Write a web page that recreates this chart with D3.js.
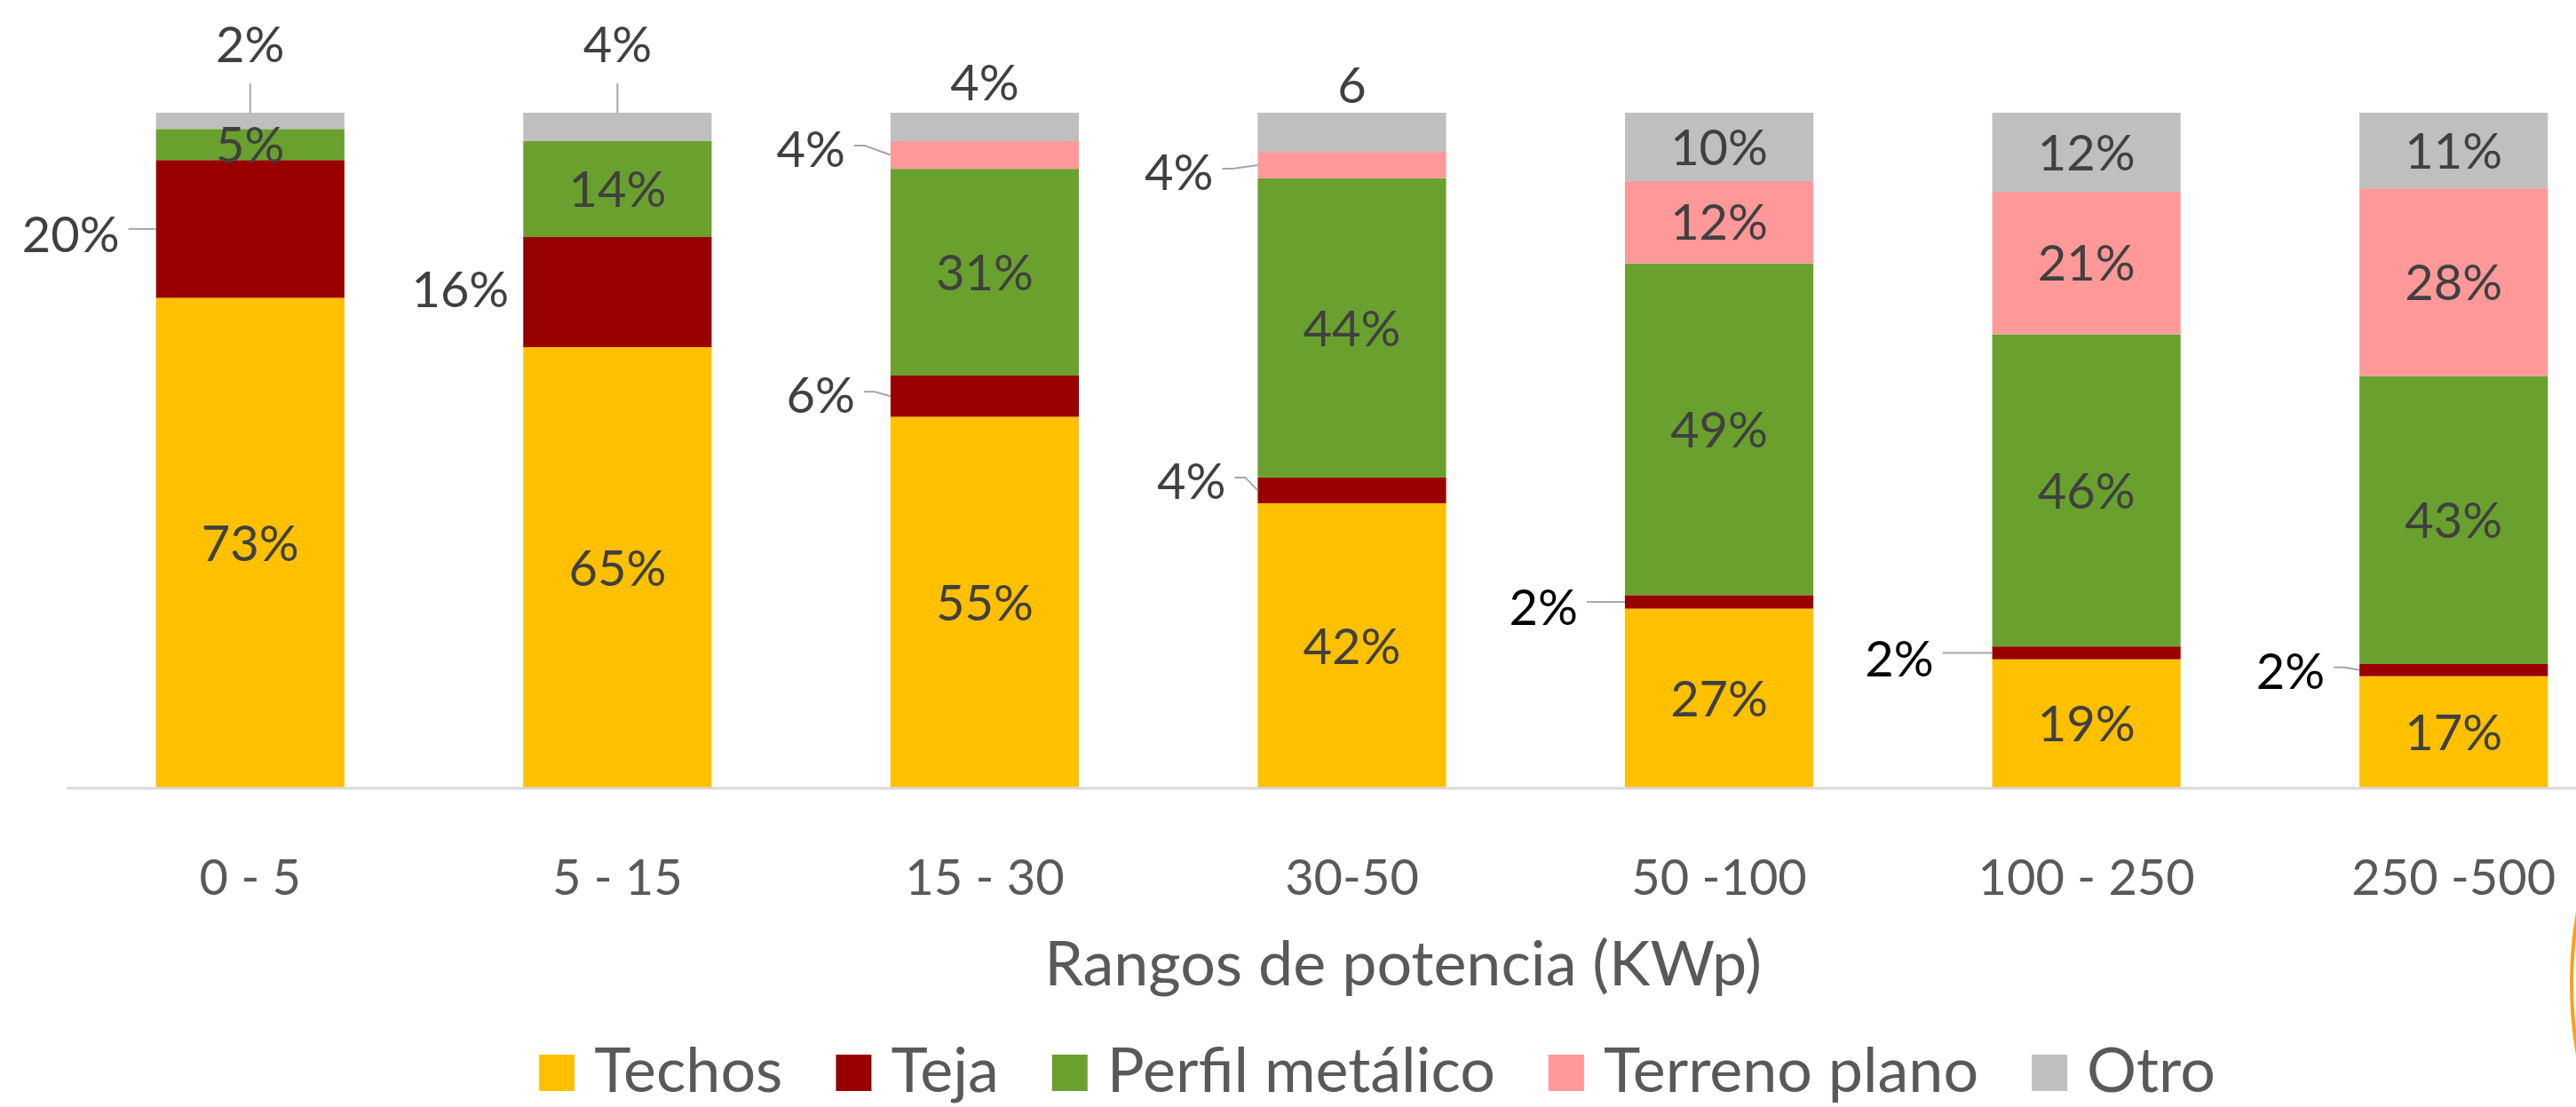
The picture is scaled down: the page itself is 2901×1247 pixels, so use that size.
<!DOCTYPE html>
<html><head><meta charset="utf-8">
<script src="https://cdn.jsdelivr.net/npm/d3@7"></script>
<style>html,body{margin:0;padding:0;background:#fff;overflow:hidden}</style>
</head><body><svg id="chart" width="2901" height="1247"></svg>
<script>
// ---- data ----
const categories = ["0 - 5", "5 - 15", "15 - 30", "30-50", "50 -100", "100 - 250", "250 -500"];
const seriesNames = ["Techos", "Teja", "Perfil metálico", "Terreno plano", "Otro"];
const techos  = [72.6, 65.3, 55.0, 42.2, 26.6, 19.1, 16.6];
const teja    = [20.4, 16.3, 6.1, 3.8, 2.0, 1.9, 1.8];
const perfil  = [4.6, 14.2, 30.6, 44.3, 49.1, 46.2, 42.6];
const terreno = [0, 0, 4.1, 3.9, 12.2, 21.1, 27.8];
const otro    = [2.4, 4.2, 4.2, 5.8, 10.1, 11.7, 11.2];
const axisTitle = "Rangos de potencia (KWp)";

// ---- styles / layout ----
const colors = {"Techos":"#FFC000","Teja":"#990000","Perfil metálico":"#6AA12E","Terreno plano":"#FF9999","Otro":"#BFBFBF"};
const FONT = "Lato, 'Open Sans', sans-serif";
const labelSize = 56, titleSize = 70;
// outside-left labels: key -> [gap from bar, dy of label vs segment centre, leader, colour]
const leftLabels = {
  "0 - 5|Teja": [41, 6, true, "#404040"],
  "5 - 15|Teja": [16, -3, false, "#404040"],
  "15 - 30|Terreno plano": [51, -6.5, true, "#404040"],
  "15 - 30|Teja": [40, -1, true, "#404040"],
  "30-50|Terreno plano": [50, 8, true, "#404040"],
  "30-50|Teja": [36, -10.5, true, "#404040"],
  "50 -100|Teja": [53, 6, true, "#000000"],
  "100 - 250|Teja": [66, 6, true, "#000000"],
  "250 -500|Teja": [39, 1, true, "#000000"]
};
// labels above the bar: key -> [baseline y, leader, text override]
const topLabels = {
  "0 - 5|Otro": [70, true, null],
  "5 - 15|Otro": [70, true, null],
  "15 - 30|Otro": [113, false, null],
  "30-50|Otro": [116, false, "6"]
};

const rows = categories.map((c, i) => ({
  cat: c, "Techos": techos[i], "Teja": teja[i], "Perfil metálico": perfil[i],
  "Terreno plano": terreno[i], "Otro": otro[i]
}));

const svg = d3.select("#chart");
const x = d3.scaleBand().domain(categories).range([75, 2970]).paddingInner(0.487).paddingOuter(0.2435);
const y = d3.scaleLinear().domain([0, 100]).range([888, 127]);

const stacked = d3.stack().keys(seriesNames)(rows);

// bars
const g = svg.append("g");
stacked.forEach(s => {
  g.append("g").selectAll("rect").data(s).join("rect")
    .attr("x", d => x(d.data.cat))
    .attr("width", x.bandwidth())
    .attr("y", d => y(d[1]))
    .attr("height", d => Math.max(0, y(d[0]) - y(d[1])))
    .attr("fill", colors[s.key]);
});

// axis line
svg.append("line").attr("x1", 75).attr("x2", 2901).attr("y1", y(0)).attr("y2", y(0))
  .attr("stroke", "#D9D9D9").attr("stroke-width", 3);

// tick labels via d3 axis
const ax = svg.append("g").attr("transform", `translate(0,${y(0)})`)
  .call(d3.axisBottom(x).tickSize(0).tickPadding(0));
ax.select(".domain").remove();
ax.selectAll("text").attr("font-family", FONT).attr("font-size", labelSize)
  .attr("fill", "#595959").attr("dy", null).attr("y", 1008 - y(0));

// data labels
const lab = svg.append("g").attr("font-family", FONT).attr("font-size", labelSize);
const leader = svg.append("g").attr("stroke", "#A6A6A6").attr("stroke-width", 2).attr("fill", "none");
stacked.forEach(s => {
  s.forEach(d => {
    const v = d[1] - d[0];
    if (v <= 0) return;
    const cat = d.data.cat, key = cat + "|" + s.key;
    const txt = Math.round(v) + "%";
    const bx = x(cat), cx = bx + x.bandwidth() / 2;
    const cy = (y(d[0]) + y(d[1])) / 2;
    if (leftLabels[key]) {
      const [gap, dy, hasLeader, col] = leftLabels[key];
      const rx = bx - gap, ly = cy + dy;
      lab.append("text").attr("x", rx).attr("y", ly).attr("dy", "0.36em")
        .attr("text-anchor", "end").attr("fill", col).text(txt);
      if (hasLeader) {
        const sx = rx + 10, sy = ly - 4;
        if (Math.abs(sy - cy) < 3) {
          leader.append("path").attr("d", `M${sx},${cy}L${bx},${cy}`);
        } else {
          leader.append("path").attr("d", `M${sx},${sy}L${sx + 12},${sy}L${bx},${cy}`);
        }
      }
    } else if (topLabels[key]) {
      const [base, hasLeader, ov] = topLabels[key];
      lab.append("text").attr("x", cx).attr("y", base).attr("text-anchor", "middle")
        .attr("fill", "#404040").text(ov !== null ? ov : txt);
      if (hasLeader) leader.append("path").attr("d", `M${cx},${y(d[1])}L${cx},${base + 24}`);
    } else {
      lab.append("text").attr("x", cx).attr("y", cy).attr("dy", "0.36em")
        .attr("text-anchor", "middle").attr("fill", "#404040").text(txt);
    }
  });
});

// axis title
svg.append("text").attr("x", 1580).attr("y", 1110).attr("text-anchor", "middle")
  .attr("font-family", FONT).attr("font-size", titleSize).attr("fill", "#595959").text(axisTitle);

// legend
const legBase = 1230;
const leg = svg.append("g").attr("font-family", FONT).attr("font-size", titleSize).attr("fill", "#595959");
let lx = 0;
const items = [];
seriesNames.forEach(n => {
  const it = leg.append("g");
  it.append("rect").attr("x", 0).attr("y", legBase - 42).attr("width", 40).attr("height", 41).attr("fill", colors[n]);
  const t = it.append("text").attr("x", 62).attr("y", legBase).text(n);
  const w = t.node().getComputedTextLength();
  items.push([it, lx]);
  lx += 62 + w + 60;
});
const total = lx - 60;
const start = 1551 - total / 2;
items.forEach(([it, off]) => it.attr("transform", `translate(${start + off},0)`));

// decorative orange arc at right edge
svg.append("circle").attr("cx", 2896 + 465).attr("cy", 1108).attr("r", 465)
  .attr("fill", "none").attr("stroke", "#F9A01B").attr("stroke-width", 4);
</script>
</body></html>
